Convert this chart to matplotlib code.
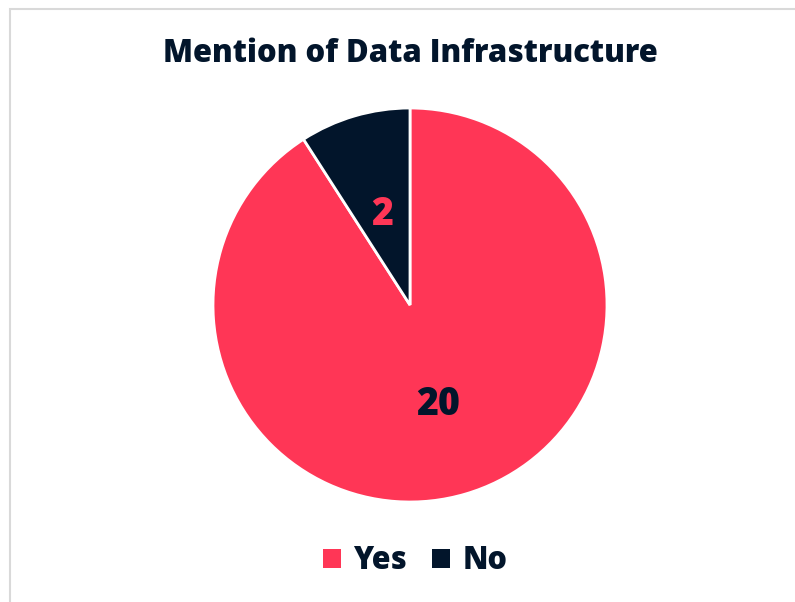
import matplotlib
matplotlib.use('Agg')

import matplotlib.pyplot as plt
from matplotlib.patches import Rectangle

labels = ['Yes', 'No']
counts = [20, 2]
colors = ['#FF3656', '#02152B']
text_colors = ['#02152B', '#FF3656']

plt.rcParams['font.family'] = ['Open Sans', 'DejaVu Sans']

fig = plt.figure(figsize=(7.95, 6.02), dpi=100)

# light border round the chart area
fig.patches.append(Rectangle((10 / 795, -0.05), 1.2, 1 - 9 / 602 + 0.05,
                             transform=fig.transFigure, fill=False,
                             edgecolor='#D9D9D9', linewidth=1.5))

cx, cy, r = 410, 305, 197
ax = fig.add_axes([(cx - r) / 795, 1 - (cy + r) / 602, 2 * r / 795, 2 * r / 602])

wedges, texts = ax.pie(counts, colors=colors, startangle=90, counterclock=False,
                       labels=[str(c) for c in counts], labeldistance=0.5,
                       wedgeprops={'edgecolor': 'white', 'linewidth': 2},
                       textprops={'fontsize': 27, 'fontweight': 800})
for t, c in zip(texts, text_colors):
    t.set_color(c)
    t.set_ha('center')
    t.set_va('center_baseline')
ax.set_xlim(-1, 1)
ax.set_ylim(-1, 1)

fig.text(410 / 795, 1 - 54 / 602, 'Mention of Data Infrastructure', ha='center', va='center',
         fontsize=22.3, fontweight=800, color='#02152B')

leg = fig.legend(wedges, labels, loc='center', bbox_to_anchor=(415 / 795, 1 - 561 / 602),
                 ncol=2, frameon=False, fontsize=22, handlelength=0.6, handleheight=0.6,
                 handletextpad=0.4, columnspacing=0.8)
for t in leg.get_texts():
    t.set_fontweight(800)
    t.set_color('#02152B')
for h in leg.legend_handles:
    h.set_edgecolor('none')

fig.savefig('out.png', dpi=100)
